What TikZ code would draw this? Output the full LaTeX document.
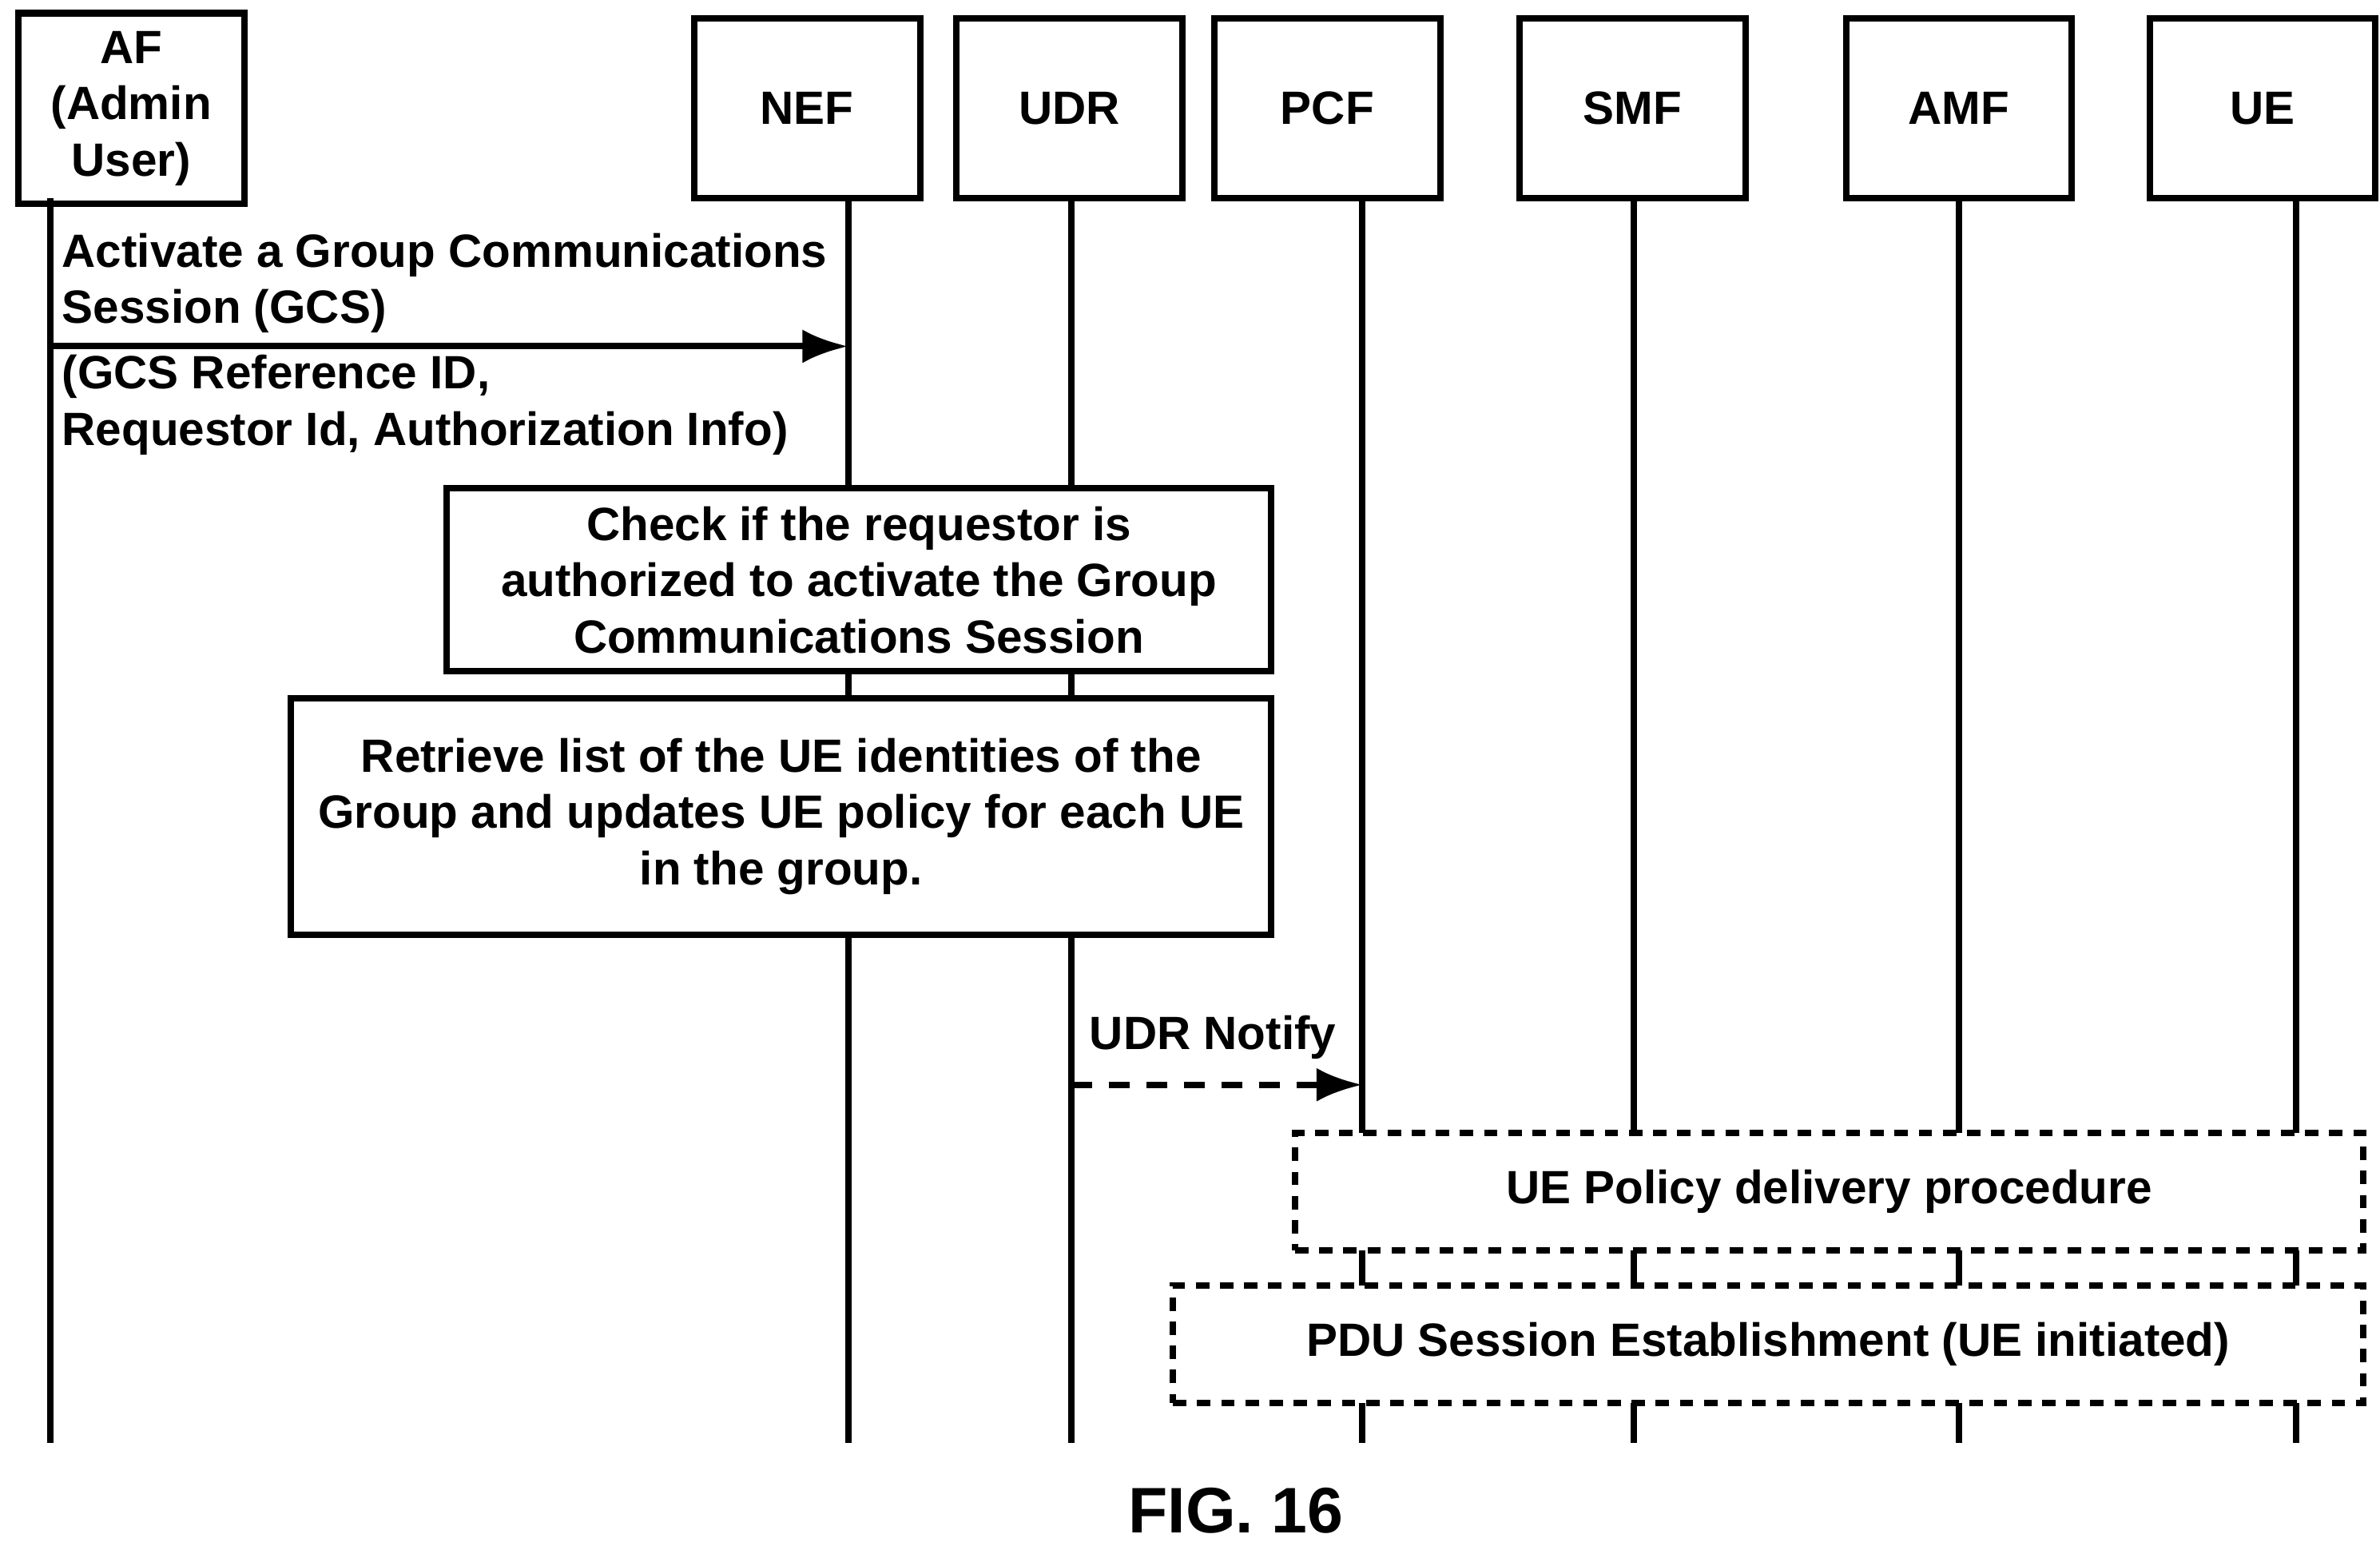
\documentclass[tikz,border=0pt]{standalone}
\usepackage{fontspec}
\setmainfont{Liberation Sans}
\usetikzlibrary{arrows.meta}
\tikzset{%
  >={Latex[width=2.2mm,length=3mm]},
  % styles for the entities and steps
       entity/.style = {rectangle, draw=black, line width=1.2pt, fill=white,
                        minimum width=1.48cm, minimum height=1.18cm,
                        align=center},
       action/.style = {rectangle, draw=black, line width=1.2pt, fill=white,
                        align=center},
    procedure/.style = {rectangle, draw=black, line width=1.2pt, fill=white,
                        dash pattern=on 2.5pt off 2pt},
     lifeline/.style = {line width=1.2pt},
}
\begin{document}
\begin{tikzpicture}[x=0.01cm, y=-0.01cm,
    every node/.style={font=\bfseries\fontsize{8.7}{10.5}\selectfont}]
  \useasboundingbox (0,0) rectangle (1560,1013);
  % entities
  \node (af)  [entity] at (86,71)   {AF\\(Admin\\User)};
  \node (nef) [entity] at (529,71)  {NEF};
  \node (udr) [entity] at (701,71)  {UDR};
  \node (pcf) [entity] at (870,71)  {PCF};
  \node (smf) [entity] at (1070,71) {SMF};
  \node (amf) [entity] at (1284,71) {AMF};
  \node (ue)  [entity] at (1483,71) {UE};

  % lifeline ends
  \coordinate (afTop)  at (33,130);   \coordinate (afEnd)  at (33,946);
  \coordinate (nefTop) at (556,130);  \coordinate (nefEnd) at (556,946);
  \coordinate (udrTop) at (702,130);  \coordinate (udrEnd) at (702,946);
  \coordinate (pcfTop) at (893,130);  \coordinate (pcfEnd) at (893,946);
  \coordinate (smfTop) at (1071,130); \coordinate (smfEnd) at (1071,946);
  \coordinate (amfTop) at (1284,130); \coordinate (amfEnd) at (1284,946);
  \coordinate (ueTop)  at (1505,130); \coordinate (ueEnd)  at (1505,946);

  \foreach \l in {af,nef,udr,pcf,smf,amf,ue}
    \draw[lifeline] (\l Top) -- (\l End);

  % messages
  \coordinate (actFrom) at (33,227);
  \coordinate (actTo)   at (556,227);
  \draw[lifeline, ->] (actFrom) -- (actTo);
  \node (actLabel) [anchor=south west, align=left, inner sep=0pt]
    at (40,219) {Activate a Group Communications\\Session (GCS)};
  \node (actParams) [anchor=north west, align=left, inner sep=0pt]
    at (40,232) {(GCS Reference ID,\\Requestor Id, Authorization Info)};

  \node (check) [action, minimum width=5.4cm, minimum height=1.17cm] at (563,380)
    {Check if the requestor is\\authorized to activate the Group\\Communications Session};
  \node (retrieve) [action, minimum width=6.42cm, minimum height=1.55cm] at (512,535)
    {Retrieve list of the UE identities of the\\Group and updates UE policy for each UE\\in the group.};

  \coordinate (notifyFrom) at (702,711);
  \coordinate (notifyTo)   at (893,711);
  \draw[lifeline, dash pattern=on 4pt off 3pt, ->] (notifyFrom) -- (notifyTo);
  \node (notifyLabel) at (795,680) {UDR Notify};

  \node (policy) [procedure, minimum width=7cm, minimum height=0.77cm] at (1199,781)
    {UE Policy delivery procedure};
  \node (pdu) [procedure, minimum width=7.8cm, minimum height=0.77cm] at (1159,881)
    {PDU Session Establishment (UE initiated)};

  \node (fig) at (810,990) {\fontsize{12}{14}\selectfont FIG. 16};
\end{tikzpicture}
\end{document}
